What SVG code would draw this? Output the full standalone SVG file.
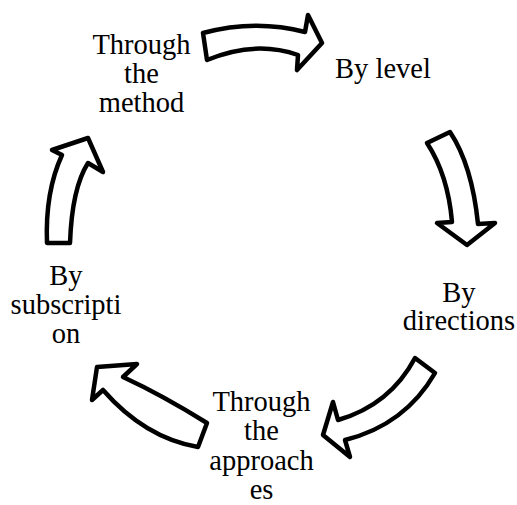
<svg xmlns="http://www.w3.org/2000/svg" width="517" height="505" viewBox="0 0 517 505">
<style>
.arr{fill:#fff;stroke:#000;stroke-width:4.5;stroke-linejoin:round}
text{font-family:'Liberation Serif','Times New Roman','DejaVu Serif',serif;font-size:28.5px;fill:#000;text-anchor:middle}
</style>
<rect width="517" height="505" fill="#fff"/>
<g id="connectors">
<path class="arr" d="M203,33 Q255,19 305,32 L308,15 L322,43 L297,70 L298,55 Q255,40 207,60 Z"/>
<path class="arr" d="M427,143 L450,132 Q472,165 478,224 L495,223 L467,245 L437,223 L452,222 Q448,175 427,143 Z"/>
<path class="arr" d="M415,358 L435,373 Q405,425 345,440 L350,457 L323,435 L333,402 L338,420 Q390,405 415,358 Z"/>
<path class="arr" d="M207,423 Q162,395 123,377 L137,364 L97,367 L92,400 L103,390 Q145,438 198,447 Z"/>
<path class="arr" d="M47,243 L70,243 Q72,188 88,163 L103,172 L88,138 L52,150 L62,155 Q45,192 47,243 Z"/>
</g>
<g id="node-method"><text x="141.5" y="54">Through</text><text x="141.5" y="83">the</text><text x="141.5" y="112">method</text></g>
<g id="node-level"><text x="383" y="78">By level</text></g>
<g id="node-directions"><text x="459" y="302">By</text><text x="459" y="330">directions</text></g>
<g id="node-approaches"><text x="261.5" y="411">Through</text><text x="261.5" y="440">the</text><text x="261.5" y="470">approach</text><text x="261.5" y="499">es</text></g>
<g id="node-subscription"><text x="66" y="285">By</text><text x="66" y="314">subscripti</text><text x="66" y="343">on</text></g>
</svg>
